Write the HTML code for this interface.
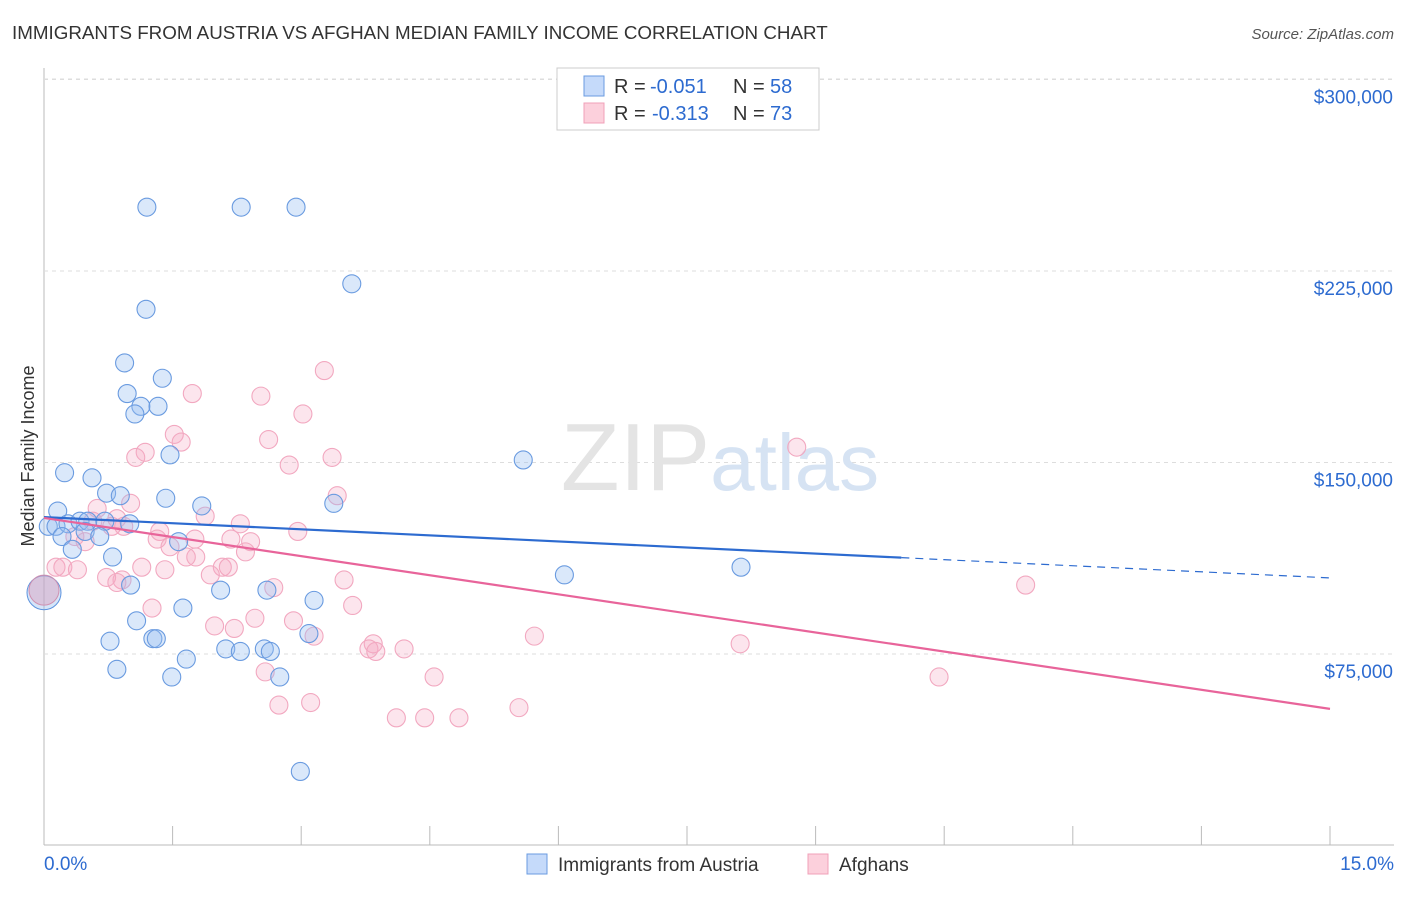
<!DOCTYPE html>
<html><head><meta charset="utf-8"><style>
body{margin:0;background:#fff;font-family:"Liberation Sans",sans-serif;}
svg text{font-family:"Liberation Sans",sans-serif;}
</style></head><body>
<svg id="chart" width="1406" height="892">
<text x="12" y="39" font-size="18.8" fill="#333">IMMIGRANTS FROM AUSTRIA VS AFGHAN MEDIAN FAMILY INCOME CORRELATION CHART</text>
<text x="1394" y="39" font-size="15" fill="#555" font-style="italic" text-anchor="end">Source: ZipAtlas.com</text>
<text x="34" y="456" font-size="18" fill="#333" transform="rotate(-90 34 456)" text-anchor="middle">Median Family Income</text>
<g id="grid"></g>
<text x="720" y="490" font-size="96" fill="#e4e4e4" text-anchor="middle" font-family="Liberation Serif">ZIP<tspan fill="#d6e3f3" font-family="Liberation Sans" font-size="80">atlas</tspan></text>
<g id="pts"></g>
<g id="lines"></g>
<g>
<rect x="557" y="68" width="262" height="62" fill="#fff" stroke="#ccc"/>
<rect x="584" y="76" width="20" height="20" fill="#c5dafa" stroke="#6a9be0"/>
<text x="614" y="93" font-size="20" fill="#333">R =</text>
<text x="650" y="93" font-size="20" fill="#2d6bd0">-0.051</text>
<text x="733" y="93" font-size="20" fill="#333">N =</text>
<text x="770" y="93" font-size="20" fill="#2d6bd0">58</text>
<rect x="584" y="103" width="20" height="20" fill="#fcd0dc" stroke="#f0a0b8"/>
<text x="614" y="120" font-size="20" fill="#333">R =</text>
<text x="652" y="120" font-size="20" fill="#2d6bd0">-0.313</text>
<text x="733" y="120" font-size="20" fill="#333">N =</text>
<text x="770" y="120" font-size="20" fill="#2d6bd0">73</text>
</g>
<g>
<rect x="527" y="854" width="20" height="20" fill="#c5dafa" stroke="#6a9be0"/>
<text x="558" y="871" font-size="19" fill="#333">Immigrants from Austria</text>
<rect x="808" y="854" width="20" height="20" fill="#fcd0dc" stroke="#f0a0b8"/>
<text x="839" y="871" font-size="19" fill="#333">Afghans</text>
</g>
</svg>
<script>
const yTicks=[75000,150000,225000,300000];
const yTickLabels=["$75,000","$150,000","$225,000","$300,000"];
const xTickLabels=["0.0%","15.0%"];
const blueX=[1.20,2.30,2.94,3.59,1.19,0.94,1.38,0.97,1.13,1.33,1.06,1.47,5.59,0.24,0.56,0.73,0.89,1.42,1.84,3.38,0.16,0.05,0.14,0.28,0.42,0.51,0.71,1.00,0.48,0.65,0.21,0.33,0.80,1.57,6.07,8.13,1.01,2.06,2.60,1.62,3.15,1.08,0.77,1.27,1.31,2.12,2.29,2.57,2.64,3.09,1.66,0.85,1.49,2.75,2.99];
const blueY=[250000,250000,250000,220000,210000,189000,183000,177000,172000,172000,169000,153000,151000,146000,144000,138000,137000,136000,133000,134000,131000,125000,125000,126000,127000,127000,127000,126000,123000,121000,121000,116000,113000,119000,106000,109000,102000,100000,100000,93000,96000,88000,80000,81000,81000,77000,76000,77000,76000,83000,73000,69000,66000,66000,29000];
const pinkX=[3.27,1.73,2.53,3.02,1.52,1.60,2.62,8.78,1.18,1.07,3.36,2.86,3.42,1.01,0.62,1.88,0.85,0.57,2.29,0.93,0.79,2.96,1.35,1.32,1.76,2.18,2.41,0.36,0.48,1.47,1.77,1.66,2.35,2.08,2.15,0.14,0.22,0.39,1.14,1.41,1.94,0.73,0.91,0.85,3.50,2.68,11.45,1.26,3.60,2.46,2.91,1.99,2.22,3.15,5.72,3.84,3.79,4.20,3.87,8.12,2.58,4.55,10.44,2.74,3.11,5.54,4.11,4.44,4.84];
const pinkY=[186000,177000,176000,169000,161000,158000,159000,156000,154000,152000,152000,149000,137000,134000,132000,129000,128000,127000,126000,125000,125000,123000,123000,120000,120000,120000,119000,121000,119000,117000,113000,113000,115000,109000,109000,109000,109000,108000,109000,108000,106000,105000,104000,103000,104000,101000,102000,93000,94000,89000,88000,86000,85000,82000,82000,79000,77000,77000,76000,79000,68000,66000,66000,55000,56000,54000,50000,50000,50000];
const bigBlue=[0,99000], bigPink=[0,100000];
const blueTrend=[128600,104800], blueSolidEnd=10.0;
const pinkTrend=[128300,53500];
const NS="http://www.w3.org/2000/svg";
const X=p=>44+p/15*1286, Y=v=>654-(v-75000)/75000*191.5;
function mk(t,a,parent){const e=document.createElementNS(NS,t);for(const k in a)e.setAttribute(k,a[k]);parent.appendChild(e);return e;}
const grid=document.getElementById('grid');
mk('line',{x1:44,y1:68,x2:44,y2:845,stroke:'#bbb'},grid);
mk('line',{x1:44,y1:845,x2:1394,y2:845,stroke:'#bbb'},grid);
yTicks.forEach((v,i)=>{
 const l=mk('line',{x1:44,y1:Y(v),x2:1394,y2:Y(v),stroke:'#ddd','stroke-dasharray':'4,4'},grid);
 
 
 const t=mk('text',{x:1393,y:Y(v)+24,'font-size':19,fill:'#2d6bd0','text-anchor':'end'},grid);t.textContent=yTickLabels[i];
 
 
});
mk('line',{x1:44,y1:79,x2:1394,y2:79,stroke:'#ddd','stroke-dasharray':'4,4'},grid);
for(let i=0;i<=10;i++){const tk=mk('line',{x1:X(i*1.5),y1:826,x2:X(i*1.5),y2:845,stroke:'#bbb'},grid);
 
 }
xTickLabels.forEach((s,i)=>{const t=mk('text',{x:i?1394:44,y:870,'font-size':19,fill:'#2d6bd0','text-anchor':i?'end':'start'},grid);t.textContent=s;
 
 });
const pts=document.getElementById('pts');
function dots(xs,ys,fill,stroke,name){xs.forEach((x,i)=>{const c=mk('circle',{cx:X(x),cy:Y(ys[i]),r:9,fill:fill,stroke:stroke,'stroke-width':1.1},pts);
 
 });}
dots(pinkX,pinkY,'rgba(245,170,195,0.3)','#f2a8c0','afghan-point');
dots(blueX,blueY,'rgba(150,190,240,0.35)','#6a9be0','austria-point');
let b=mk('circle',{cx:X(bigBlue[0]),cy:Y(bigBlue[1]),r:17,fill:'rgba(150,190,240,0.4)',stroke:'#5d93de'},pts);


b=mk('circle',{cx:X(bigPink[0]),cy:Y(bigPink[1]),r:15,fill:'rgba(220,150,180,0.4)',stroke:'#d090b0'},pts);


const lines=document.getElementById('lines');
const bv=p=>blueTrend[0]+(blueTrend[1]-blueTrend[0])*p/15;
let l=mk('line',{x1:X(0),y1:Y(bv(0)),x2:X(blueSolidEnd),y2:Y(bv(blueSolidEnd)),stroke:'#2d6bd0','stroke-width':2.2},lines);


l=mk('line',{x1:X(blueSolidEnd),y1:Y(bv(blueSolidEnd)),x2:X(15),y2:Y(bv(15)),stroke:'#2d6bd0','stroke-width':1.2,'stroke-dasharray':'8,6'},lines);


l=mk('line',{x1:X(0),y1:Y(pinkTrend[0]),x2:X(15),y2:Y(pinkTrend[1]),stroke:'#e8649a','stroke-width':2.2},lines);


</script>
</body></html>
